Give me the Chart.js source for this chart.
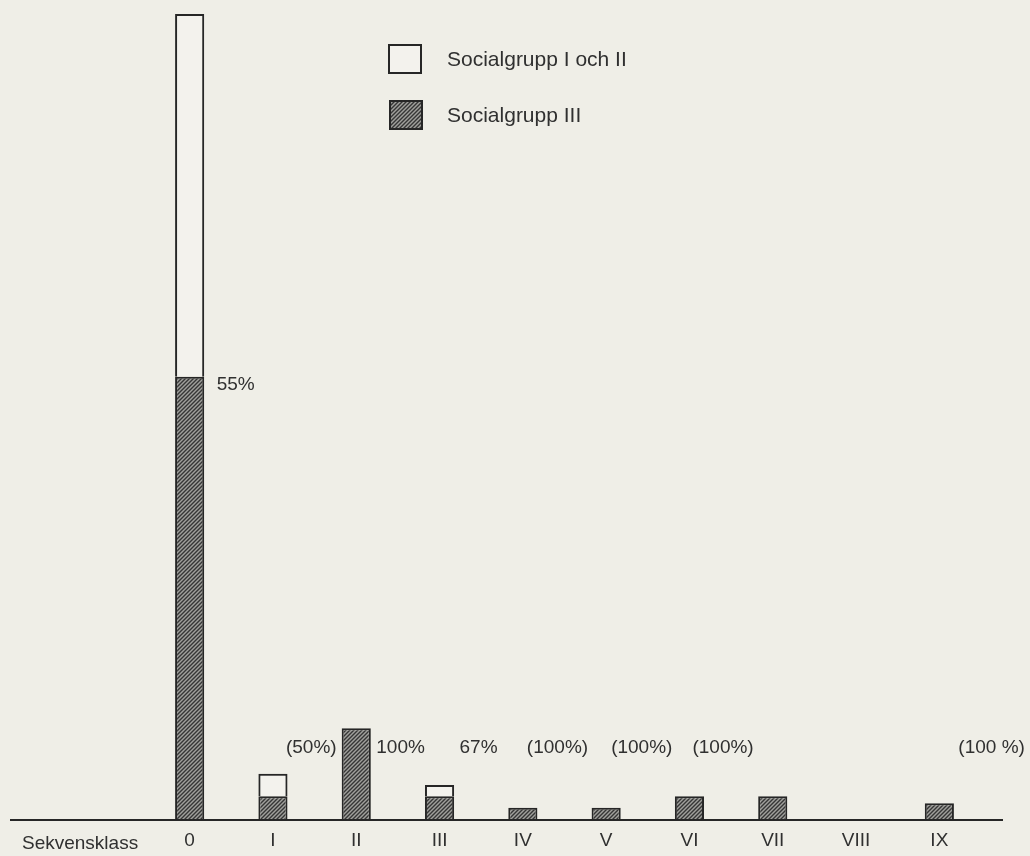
<!DOCTYPE html>
<html>
<head>
<meta charset="utf-8">
<script src="https://cdn.jsdelivr.net/npm/chart.js@4"></script>
<style>
  html, body { margin: 0; padding: 0; background: #efeee7; }
  #wrap { width: 1030px; height: 856px; position: relative; }
</style>
</head>
<body>
<div id="wrap"><canvas id="sekvens__graph"></canvas></div>
<script>
// values (arbitrary count units)
const classLabels = ['0', 'I', 'II', 'III', 'IV', 'V', 'VI', 'VII', 'VIII', 'IX'];
const group3Values = [39, 2, 8, 2, 1, 1, 2, 2, null, 1.4];
const group12Values = [32, 2, null, 1, null, null, null, null, null, null];
const shareLabels = ['55%', '(50%)', '100%', '67%', '(100%)', '(100%)', '(100%)', '', '', '(100 %)'];
const axisTitle = 'Sekvensklass';
const legendNames = ['Socialgrupp I och II', 'Socialgrupp III'];

const ctx = document.getElementById('sekvens__graph').getContext('2d');

// diagonal hatching like the printed bars
function makeHatch() {
    const c = document.createElement('canvas');
    c.width = 4; c.height = 4;
    const g = c.getContext('2d');
    g.fillStyle = '#a0a09c';
    g.fillRect(0, 0, 4, 4);
    g.strokeStyle = '#363636';
    g.lineWidth = 1.4;
    g.beginPath();
    g.moveTo(0, 4); g.lineTo(4, 0);
    g.moveTo(-1, 1); g.lineTo(1, -1);
    g.moveTo(3, 5); g.lineTo(5, 3);
    g.stroke();
    return ctx.createPattern(c, 'repeat');
}
const hatch = makeHatch();
const paper = 'rgba(255, 255, 255, 0.25)';
const ink = '#262626';
const textInk = '#303030';
const FONT = '"Liberation Sans", Arial, sans-serif';

// small horizontal nudges for the percent notes, as set in the print
const noteNudge = [0, 1, 8, 8, -8, -7, -9, 0, 0, 7];

const annotations = {
    id: 'annotations',
    afterDraw(chart) {
        const c = chart.ctx;
        const xs = chart.scales.x;
        const ys = chart.scales.y;
        const base = ys.getPixelForValue(0);
        c.save();

        // baseline
        c.strokeStyle = ink;
        c.lineWidth = 2;
        c.beginPath();
        c.moveTo(10, base + 1);
        c.lineTo(1003, base + 1);
        c.stroke();

        c.fillStyle = textInk;
        c.font = '19px ' + FONT;
        c.textBaseline = 'middle';

        // category labels
        c.textAlign = 'center';
        classLabels.forEach((lab, i) => {
            c.fillText(lab, xs.getPixelForValue(i), base + 22);
        });
        c.textAlign = 'left';
        c.fillText(axisTitle, 22, base + 25);

        // share notes
        shareLabels.forEach((lab, i) => {
            if (!lab) return;
            const x = xs.getPixelForValue(i);
            if (i === 0) {
                c.fillText(lab, x + 27, ys.getPixelForValue(group3Values[0]) + 8);
            } else {
                c.fillText(lab, x + 12 + noteNudge[i], base - 71);
            }
        });

        // legend
        const boxes = [
            { x: 389, y: 45, fill: paper },
            { x: 390, y: 101, fill: hatch }
        ];
        c.font = '21px ' + FONT;
        boxes.forEach((b, i) => {
            c.fillStyle = b.fill;
            c.fillRect(b.x, b.y, 32, 28);
            c.strokeStyle = ink;
            c.lineWidth = 2;
            c.strokeRect(b.x, b.y, 32, 28);
            c.fillStyle = textInk;
            c.fillText(legendNames[i], 447, b.y + 15);
        });
        c.restore();
    }
};

const sekvensChart = new Chart(ctx, {
    type: 'bar',
    data: {
        labels: classLabels,
        datasets: [{
            label: legendNames[1],
            data: group3Values,
            backgroundColor: hatch,
            borderColor: ink,
            borderWidth: 2,
            categoryPercentage: 1,
            barPercentage: 0.35
        }, {
            label: legendNames[0],
            data: group12Values,
            backgroundColor: paper,
            borderColor: ink,
            borderWidth: 2,
            categoryPercentage: 1,
            barPercentage: 0.35
        }]
    },
    options: {
        responsive: true,
        maintainAspectRatio: false,
        animation: false,
        layout: {
            padding: { left: 148, right: 49, top: 14, bottom: 37 }
        },
        plugins: {
            legend: { display: false },
            tooltip: { enabled: false }
        },
        scales: {
            x: { stacked: true, display: false, offset: true },
            y: { stacked: true, display: false, min: 0, max: 71 }
        }
    },
    plugins: [annotations]
});
</script>
</body>
</html>
